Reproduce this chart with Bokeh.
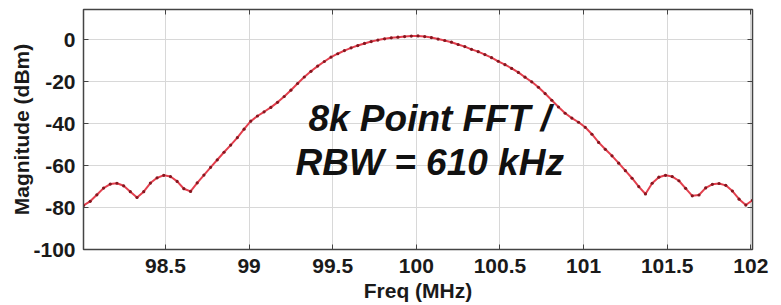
from bokeh.plotting import figure
from bokeh.models import FixedTicker, LinearAxis, Range1d, ColumnDataSource, Label, CustomJSTickFormatter
from bokeh.embed import file_html
from bokeh.resources import INLINE

freq_mhz = [
    98.01, 98.05, 98.09, 98.13, 98.17, 98.21, 98.25, 98.29, 98.33, 98.37,
    98.41, 98.45, 98.49, 98.53, 98.57, 98.61, 98.65, 98.69, 98.73, 98.77,
    98.81, 98.85, 98.89, 98.93, 98.97, 99.01, 99.05, 99.09, 99.13, 99.17,
    99.21, 99.25, 99.29, 99.33, 99.37, 99.41, 99.45, 99.49, 99.53, 99.57,
    99.61, 99.65, 99.69, 99.73, 99.77, 99.81, 99.85, 99.89, 99.93, 99.97,
    100.01, 100.05, 100.09, 100.13, 100.17, 100.21, 100.25, 100.29, 100.33, 100.37,
    100.41, 100.45, 100.49, 100.53, 100.57, 100.61, 100.65, 100.69, 100.73, 100.77,
    100.81, 100.85, 100.89, 100.93, 100.97, 101.01, 101.05, 101.09, 101.13, 101.17,
    101.21, 101.25, 101.29, 101.33, 101.37, 101.41, 101.45, 101.49, 101.53, 101.57,
    101.61, 101.65, 101.69, 101.73, 101.77, 101.81, 101.85, 101.89, 101.93, 101.97,
    102.01,
]
magnitude_dbm = [
    -79.0, -77.0, -73.9, -70.7, -68.8, -68.4, -69.6, -72.4, -75.2, -72.4,
    -68.3, -65.8, -64.6, -65.2, -67.5, -71.0, -72.3, -68.2, -64.5, -60.8,
    -57.2, -53.6, -50.2, -46.6, -42.6, -38.8, -36.3, -34.3, -32.2, -29.8,
    -27.0, -24.0, -20.8, -17.7, -15.0, -12.5, -10.3, -8.2, -6.6, -5.1,
    -3.8, -2.7, -1.7, -0.8, -0.1, 0.5, 1.0, 1.3, 1.6, 1.8,
    1.9, 1.6, 1.1, 0.4, -0.3, -1.1, -2.2, -3.2, -4.5, -5.6,
    -7.0, -8.5, -10.2, -11.8, -13.6, -15.5, -17.8, -20.0, -22.6, -25.6,
    -28.8, -32.0, -35.0, -37.3, -39.3, -41.7, -45.0, -48.9, -52.2, -55.3,
    -58.8, -62.4, -66.0, -70.0, -73.5, -68.4, -65.5, -64.6, -65.2, -67.2,
    -70.8, -74.4, -74.0, -70.6, -68.9, -68.5, -69.4, -72.1, -76.0, -78.8,
    -76.5,
]

x_ticks = [98.5, 99, 99.5, 100, 100.5, 101, 101.5, 102]
x_tick_labels = ["98.5", "99", "99.5", "100", "100.5", "101", "101.5", "102"]
y_ticks = [-100, -80, -60, -40, -20, 0]
y_tick_labels = ["-100", "-80", "-60", "-40", "-20", "0"]

annot_lines = ["8k Point FFT /", "RBW = 610 kHz"]
annot_x = 100.08
annot_y = [-37.5, -58.7]

FONT = "Liberation Sans"
EDGE = "#444444"

p = figure(width=772, height=304, output_backend="svg", toolbar_location=None,
           x_range=Range1d(98.01, 102.01), y_range=Range1d(-100, 14.5))
p.min_border_left = 83
p.min_border_right = 20
p.min_border_top = 9
p.min_border_bottom = 55
p.background_fill_color = "white"
p.border_fill_color = "white"
p.outline_line_color = EDGE
p.outline_line_width = 1.5

src = ColumnDataSource(dict(x=freq_mhz, y=magnitude_dbm))
p.line("x", "y", source=src, line_color="#e2404e", line_width=2.0)
p.scatter("x", "y", source=src, size=3.2, fill_color="#86161f", line_color=None)

for ax in (p.xaxis[0], p.yaxis[0]):
    ax.major_tick_in = 5
    ax.major_tick_out = 0
    ax.minor_tick_in = 0
    ax.minor_tick_out = 0
    ax.axis_line_color = EDGE
    ax.major_tick_line_color = EDGE
    ax.major_label_text_font = FONT
    ax.major_label_text_font_style = "bold"
    ax.major_label_text_font_size = "21px"
    ax.major_label_text_color = "#1a1a1a"
    ax.axis_label_text_font = FONT
    ax.axis_label_text_font_style = "bold"
    ax.axis_label_text_font_size = "21px"
    ax.axis_label_text_color = "#1a1a1a"

p.xaxis[0].ticker = FixedTicker(ticks=x_ticks)
p.xaxis[0].major_label_overrides = {t: s for t, s in zip(x_ticks, x_tick_labels)}
p.xaxis[0].axis_label = "Freq (MHz)"
p.xaxis[0].major_label_standoff = 9
p.xaxis[0].axis_label_standoff = 3

p.yaxis[0].ticker = FixedTicker(ticks=y_ticks)
p.yaxis[0].major_label_overrides = {t: s for t, s in zip(y_ticks, y_tick_labels)}
p.yaxis[0].axis_label = "Magnitude (dBm)"
p.yaxis[0].major_label_standoff = 8
p.yaxis[0].axis_label_standoff = -3

blank = CustomJSTickFormatter(code="return '';")
top_ax = LinearAxis(ticker=FixedTicker(ticks=x_ticks), formatter=blank,
                    major_tick_in=5, major_tick_out=0, minor_tick_in=0, minor_tick_out=0,
                    major_label_standoff=0,
                    axis_line_color=EDGE, major_tick_line_color=EDGE)
right_ax = LinearAxis(ticker=FixedTicker(ticks=y_ticks), formatter=blank,
                      major_tick_in=5, major_tick_out=0, minor_tick_in=0, minor_tick_out=0,
                      major_label_standoff=0,
                      axis_line_color=EDGE, major_tick_line_color=EDGE)
p.add_layout(top_ax, "above")
p.add_layout(right_ax, "right")

p.xgrid.ticker = FixedTicker(ticks=x_ticks)
p.ygrid.ticker = FixedTicker(ticks=y_ticks)
p.grid.grid_line_color = "#d8d8d8"
p.grid.grid_line_width = 1

for txt, yy in zip(annot_lines, annot_y):
    p.add_layout(Label(x=annot_x, y=yy, text=txt, text_align="center",
                       text_baseline="alphabetic", text_font=FONT,
                       text_font_style="bold italic", text_font_size="37px",
                       text_color="#111111"))

open("out.html", "w").write(file_html(p, INLINE))
